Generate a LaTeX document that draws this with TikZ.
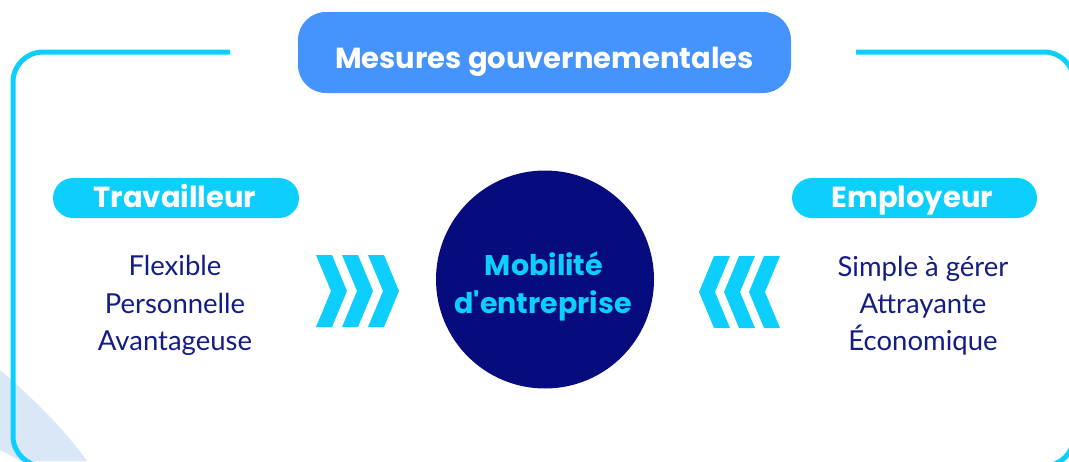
\documentclass[tikz,border=0pt]{standalone}
\usepackage{fontspec}
\setmainfont{Lato}
\newfontfamily\headfont{Poppins}
\definecolor{cyanA}{HTML}{0DCFFD}
\definecolor{blueA}{HTML}{4593FD}
\definecolor{navyA}{HTML}{060B7E}
\definecolor{navyT}{HTML}{141C86}
\definecolor{paleA}{HTML}{DAE7F6}
\tikzset{
  pill/.style={fill=cyanA, rounded corners=20pt},
  headtxt/.style={text=white, font=\headfont\bfseries\fontsize{29}{30}\selectfont, anchor=base, inner sep=0pt},
  bodytxt/.style={text=navyT, font=\fontsize{27.5}{30}\selectfont, anchor=base, inner sep=0pt},
  circtxt/.style={text=cyanA, font=\headfont\bfseries\fontsize{28.5}{30}\selectfont, anchor=base, inner sep=0pt},
  chev/.style={fill=cyanA},
  frameline/.style={draw=cyanA, line width=5pt, rounded corners=30pt}
}
\begin{document}
\begin{tikzpicture}[x=1pt,y=-1pt]
\useasboundingbox (0,0) rectangle (1069,461);
\begin{scope}
\clip (0,0) rectangle (1069,461);
% pale band
\fill[paleA] (0,370) .. controls (35,400) and (65,430) .. (87,461) -- (20,461) .. controls (12,456) and (6,453) .. (0,450) -- cycle;
% frame
\draw[frameline] (230,52) -- (13,52) -- (13,466) -- (1074,466) -- (1074,52) -- (856,52);
\end{scope}
% top box
\fill[blueA, rounded corners=28pt] (298,12) rectangle (791,93);
\node[headtxt] (mes) at (544.5,68) {Mesures gouvernementales};
% pills
\fill[pill] (53,178) rectangle (299,218);
\node[headtxt] (trav) at (175,207) {Travailleur};
\fill[pill] (792,178) rectangle (1037,218);
\node[headtxt] (empl) at (912.5,207) {Employeur};
% left body
\node[bodytxt] (l1) at (175,275) {Flexible};
\node[bodytxt] (l2) at (175,313) {Personnelle};
\node[bodytxt] (l3) at (175,350) {Avantageuse};
% right body
\node[bodytxt] (r1) at (923,276) {Simple à gérer};
\node[bodytxt] (r2) at (923,313) {Attrayante};
\node[bodytxt] (r3) at (923,350) {Économique};
% circle
\fill[navyA] (545,279.5) circle[radius=109];
\node[circtxt] (c1) at (544,275) {Mobilité};
\node[circtxt] (c2) at (543,313) {d'entreprise};
% chevrons left
\foreach \t in {347,373,399}{
  \fill[chev] (\t-31,255) -- (\t-15,255) -- (\t,291) -- (\t-15,327) -- (\t-31,327) -- (\t-16,291) -- cycle;
}
% chevrons right
\foreach \t in {699,724,749}{
  \fill[chev] (\t+31,256) -- (\t+15,256) -- (\t,292) -- (\t+15,328) -- (\t+31,328) -- (\t+16,292) -- cycle;
}
\end{tikzpicture}
\end{document}
